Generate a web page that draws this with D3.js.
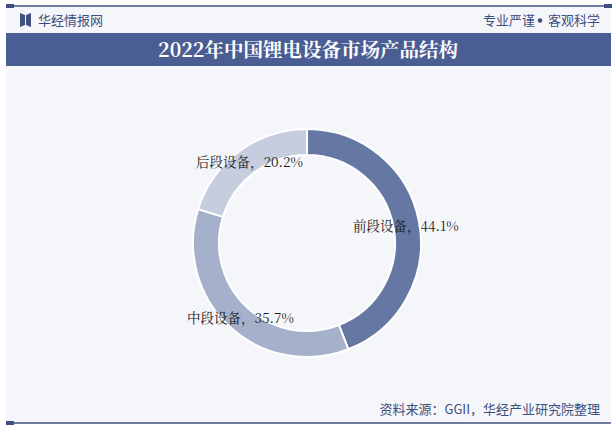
<!DOCTYPE html>
<html><head><meta charset="utf-8">
<script src="https://cdn.jsdelivr.net/npm/d3@7"></script>
<style>html,body{margin:0;padding:0;background:#fff;}svg{display:block;}</style>
</head><body>
<svg id="c" width="616" height="429"></svg>
<script>
const categories = ["前段设备", "中段设备", "后段设备"];
const values = [44.1, 35.7, 20.2];
const colors = ["#6578a3", "#a5b1cb", "#c6cddf"];
const titleText = "2022年中国锂电设备市场产品结构";
const sourceText = "资料来源：GGII，华经产业研究院整理";

const svg = d3.select("#c");
const serif = "'Noto Serif CJK SC','Noto Sans CJK SC','DejaVu Serif',serif";
const sans = "'Noto Sans CJK SC','Noto Sans',sans-serif";

// background panel
svg.append("rect").attr("x", 6).attr("y", 7).attr("width", 605).attr("height", 415).attr("fill", "#f5f6fa");

// top line
svg.append("line").attr("x1", 6).attr("x2", 611).attr("y1", 6).attr("y2", 6).attr("stroke", "#3e4f80").attr("stroke-width", 1.5);
svg.append("rect").attr("x", 6).attr("y", 4).attr("width", 8).attr("height", 4).attr("fill", "#3e4f80");
svg.append("rect").attr("x", 604).attr("y", 4).attr("width", 8).attr("height", 4).attr("fill", "#3e4f80");
// bottom line
svg.append("line").attr("x1", 6).attr("x2", 611).attr("y1", 423).attr("y2", 423).attr("stroke", "#3e4f80").attr("stroke-width", 1.5);
svg.append("rect").attr("x", 6).attr("y", 421).attr("width", 8).attr("height", 4).attr("fill", "#3e4f80");

// header logo
const logo = svg.append("g").attr("transform", "translate(20,13)");
logo.append("path").attr("d", "M0,0 L5,2 L5,12 L0,14 Z").attr("fill", "#3e4f80");
logo.append("path").attr("d", "M11,0 L6,2 L6,12 L11,14 Z").attr("fill", "#3e4f80");
svg.append("text").attr("x", 38).attr("y", 25).attr("font-family", sans).attr("font-size", 13).attr("fill", "#3e4f80").text("华经情报网");
svg.append("text").attr("x", 600).attr("y", 25).attr("text-anchor", "end").attr("font-family", sans).attr("font-size", 13).attr("fill", "#3e4f80").text("客观科学");
svg.append("circle").attr("cx", 540).attr("cy", 20.5).attr("r", 2.3).attr("fill", "#3e4f80");
svg.append("text").attr("x", 535).attr("y", 25).attr("text-anchor", "end").attr("font-family", sans).attr("font-size", 13).attr("fill", "#3e4f80").text("专业严谨");

// title band
svg.append("rect").attr("x", 6).attr("y", 33).attr("width", 605).attr("height", 33).attr("fill", "#4a5e93");
svg.append("text").attr("x", 308).attr("y", 57).attr("text-anchor", "middle").attr("font-family", serif).attr("font-weight", "bold").attr("font-size", 19.5).attr("fill", "#ffffff").text(titleText);

// donut
const cx = 307, cy = 243, rO = 114, rI = 88;
const pie = d3.pie().sort(null).value(d => d)(values);
const arc = d3.arc().innerRadius(rI).outerRadius(rO);
const g = svg.append("g").attr("transform", `translate(${cx},${cy})`);
g.selectAll("path").data(pie).join("path")
  .attr("d", arc).attr("fill", (d, i) => colors[i])
  .attr("stroke", "#ffffff").attr("stroke-width", 2);

// labels
const labelPos = [[353, 231], [187, 323], [196, 167]];
categories.forEach((c, i) => {
  svg.append("text").attr("x", labelPos[i][0]).attr("y", labelPos[i][1])
    .attr("font-family", serif).attr("font-size", 13.5).attr("fill", "#1a1a1a")
    .text(`${c}，${values[i].toFixed(1)}%`);
});

// source
svg.append("text").attr("x", 600).attr("y", 414).attr("text-anchor", "end").attr("font-family", sans).attr("font-size", 13).attr("fill", "#3e4f80").text(sourceText);
</script>
</body></html>
